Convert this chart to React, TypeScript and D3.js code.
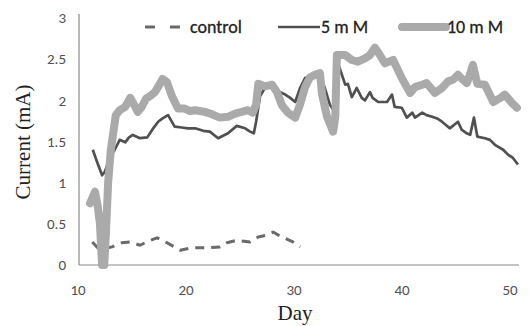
import React from "react";
import * as d3 from "d3";

const W = 529;
const H = 326;

const xTicks = [10, 20, 30, 40, 50];
const yTicks = [0, 0.5, 1, 1.5, 2, 2.5, 3];
const yTickLabels = ["0", "0.5", "1", "1.5", "2", "2.5", "3"];

const seriesNames = ["control", "5 m M", "10 m M"];

const controlDays = [11.32, 11.82, 12.43, 13.15, 14.06, 14.83, 15.75, 16.51, 17.32, 18.24, 19.46, 20.63, 22.21, 23.13, 23.79, 24.71, 25.93, 26.69, 27.4, 28.07, 28.73, 29.9, 30.56];
const controlValues = [0.28, 0.21, 0.2, 0.22, 0.27, 0.28, 0.24, 0.29, 0.33, 0.27, 0.18, 0.21, 0.21, 0.22, 0.27, 0.3, 0.28, 0.34, 0.36, 0.4, 0.35, 0.28, 0.22];

const mM5Days = [11.37, 11.77, 12.23, 12.48, 12.94, 13.4, 13.86, 14.37, 14.72, 15.08, 15.74, 16.41, 16.91, 17.42, 17.83, 18.34, 18.95, 19.62, 20.17, 20.84, 21.6, 22.21, 22.97, 23.43, 23.89, 24.7, 25.47, 25.93, 26.28, 26.49, 26.85, 27.3, 28.22, 28.68, 29.19, 29.65, 30.11, 30.56, 31.02, 31.68, 32.4, 32.85, 33.31, 33.82, 34.07, 34.18, 34.33, 34.74, 34.99, 35.35, 35.81, 36.27, 36.57, 37.03, 37.28, 37.79, 38.61, 39.07, 39.32, 39.98, 40.44, 40.95, 41.2, 41.87, 42.27, 42.79, 43.25, 43.7, 44.42, 45.18, 45.54, 46.0, 46.31, 46.66, 46.97, 47.68, 48.14, 48.6, 49.36, 49.81, 50.27, 50.73];
const mM5Values = [1.4, 1.25, 1.09, 1.13, 1.3, 1.4, 1.52, 1.49, 1.55, 1.58, 1.54, 1.55, 1.65, 1.74, 1.78, 1.82, 1.68, 1.67, 1.66, 1.66, 1.63, 1.62, 1.54, 1.57, 1.6, 1.69, 1.66, 1.62, 1.6, 1.74, 2.05, 2.15, 2.16, 2.1, 2.07, 2.03, 1.98, 2.15, 2.27, 2.3, 2.31, 2.15, 1.95, 1.85, 2.25, 2.41, 2.35, 2.19, 2.2, 2.04, 2.15, 2.03, 2.0, 2.1, 2.03, 1.98, 1.98, 2.07, 1.92, 1.91, 1.79, 1.85, 1.79, 1.85, 1.82, 1.8, 1.78, 1.74, 1.66, 1.74, 1.64, 1.6, 1.58, 1.79, 1.56, 1.54, 1.52, 1.46, 1.4, 1.34, 1.3, 1.22];

const mM10Days = [11.11, 11.57, 11.82, 12.03, 12.23, 12.43, 12.59, 12.79, 13.04, 13.5, 13.86, 14.37, 14.83, 15.18, 15.54, 15.9, 16.3, 16.66, 17.12, 17.58, 17.83, 18.24, 18.7, 19.26, 19.87, 20.38, 20.84, 21.75, 22.41, 23.13, 23.89, 24.55, 25.16, 25.72, 26.18, 26.49, 26.69, 27.3, 27.97, 28.42, 28.88, 29.44, 30.11, 30.56, 31.02, 31.48, 31.93, 32.4, 32.6, 33.06, 33.62, 33.82, 33.97, 34.74, 35.35, 35.91, 36.57, 37.03, 37.49, 37.95, 38.41, 39.18, 39.98, 40.75, 41.2, 41.87, 42.27, 43.04, 43.7, 44.26, 44.72, 45.18, 45.63, 46.0, 46.25, 46.56, 46.97, 47.68, 48.45, 49.11, 49.52, 50.17, 50.63];
const mM10Values = [0.75, 0.89, 0.72, 0.5, 0.0, 0.0, 0.4, 1.0, 1.4, 1.82, 1.88, 1.92, 2.03, 1.95, 1.86, 1.92, 2.02, 2.05, 2.1, 2.2, 2.26, 2.22, 2.05, 1.9, 1.9, 1.87, 1.88, 1.86, 1.83, 1.79, 1.8, 1.84, 1.86, 1.88, 1.85, 1.95, 2.2, 2.17, 2.19, 2.1, 1.94, 1.85, 1.79, 1.95, 2.16, 2.28, 2.31, 2.33, 2.07, 1.8, 1.62, 1.8, 2.55, 2.55, 2.49, 2.47, 2.51, 2.55, 2.64, 2.55, 2.45, 2.49, 2.27, 2.09, 2.16, 2.19, 2.21, 2.09, 2.15, 2.23, 2.25, 2.31, 2.25, 2.21, 2.3, 2.43, 2.2, 2.19, 1.98, 2.03, 2.07, 1.97, 1.91];

const tickFont = "Carlito, 'Liberation Sans', 'Open Sans', sans-serif";
const titleFont = "'Liberation Serif', 'DejaVu Serif', serif";

export default function App() {
  const x = d3.scaleLinear().domain([10, 50.83]).range([78, 519]);
  const y = d3.scaleLinear().domain([0, 3]).range([265, 18]);

  const line = d3
    .line<[number, number]>()
    .x((d) => x(d[0]))
    .y((d) => y(d[1]));

  const zip = (a: number[], b: number[]) => a.map((v, i) => [v, b[i]] as [number, number]);

  const control = zip(controlDays, controlValues);
  const s5 = zip(mM5Days, mM5Values);
  const s10 = zip(mM10Days, mM10Values);

  const legendY = 27;
  const c0 = "#6a6a6a";
  const c5 = "#505050";
  const c10 = "#aaaaaa";

  return (
    <svg width={W} height={H} style={{ position: "absolute", left: 0, top: 0, background: "#fff" }}>
      <line x1={x(10) + 1} x2={x(10) + 1} y1={y(3) - 4} y2={y(0)} stroke="#8a8a8a" strokeWidth={1.2} />
      <line x1={x(10) + 1} x2={519} y1={y(0)} y2={y(0)} stroke="#8a8a8a" strokeWidth={1.2} />

      {yTicks.map((t, i) => (
        <text key={t} x={66} y={y(t)} dy="0.35em" textAnchor="end" fontFamily={tickFont} fontSize={15} fill="#505050">
          {yTickLabels[i]}
        </text>
      ))}
      {xTicks.map((t) => (
        <text key={t} x={x(t)} y={290} dy="0.35em" textAnchor="middle" fontFamily={tickFont} fontSize={15} fill="#505050">
          {t}
        </text>
      ))}

      <text x={295} y={313} dy="0.35em" textAnchor="middle" fontFamily={titleFont} fontSize={21} fill="#222">
        Day
      </text>
      <text
        transform={`translate(23,${142}) rotate(-90)`}
        textAnchor="middle"
        dy="0.35em"
        fontFamily={titleFont}
        fontSize={21}
        fill="#222"
      >
        Current (mA)
      </text>

      <path d={line(control) || ""} fill="none" stroke={c0} strokeWidth={3} strokeDasharray="9,7" strokeLinejoin="round" />
      <path d={line(s5) || ""} fill="none" stroke={c5} strokeWidth={2.7} strokeLinejoin="round" />
      <path d={line(s10) || ""} fill="none" stroke={c10} strokeWidth={8} strokeLinejoin="round" strokeLinecap="round" />

      <line x1={145} x2={185} y1={legendY} y2={legendY} stroke={c0} strokeWidth={3} strokeDasharray="10,15" />
      <text x={190} y={legendY} dy="0.35em" fontFamily={tickFont} fontSize={18} fill="#222" stroke="#222" strokeWidth={0.3}>
        {seriesNames[0]}
      </text>
      <line x1={278} x2={320} y1={legendY} y2={legendY} stroke={c5} strokeWidth={2.7} />
      <text x={321} y={legendY} dy="0.35em" fontFamily={tickFont} fontSize={18} fill="#222" stroke="#222" strokeWidth={0.3}>
        {seriesNames[1]}
      </text>
      <line x1={402} x2={446} y1={legendY} y2={legendY} stroke={c10} strokeWidth={8} strokeLinecap="round" />
      <text x={447} y={legendY} dy="0.35em" fontFamily={tickFont} fontSize={18} fill="#222" stroke="#222" strokeWidth={0.3}>
        {seriesNames[2]}
      </text>
    </svg>
  );
}
